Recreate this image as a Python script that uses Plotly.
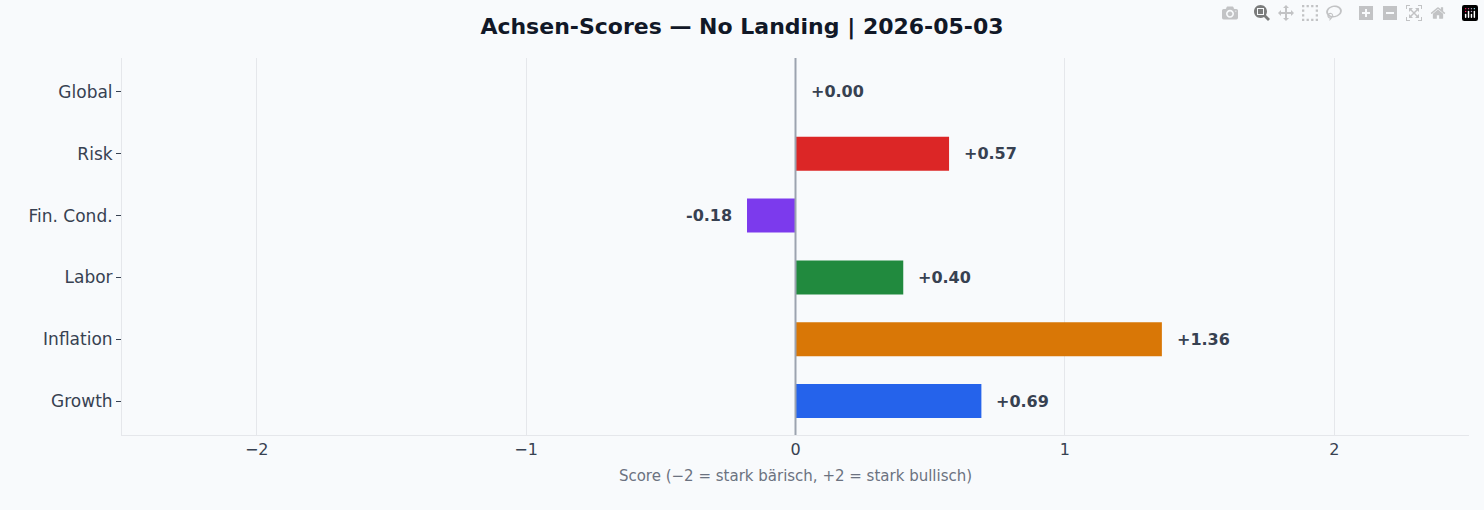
import plotly.graph_objects as go

categories = ["Growth", "Inflation", "Labor", "Fin. Cond.", "Risk", "Global"]
scores = [0.69, 1.36, 0.40, -0.18, 0.57, 0.00]
colors = ["#2563eb", "#d97706", "#218a3e", "#7c3aed", "#dc2626", "#6b7280"]
labels = [f"{v:+.2f}" for v in scores]
tick_vals = [-2, -1, 0, 1, 2]
tick_text = ["\u22122", "\u22121", "0", "1", "2"]

fig = go.Figure(go.Bar(
    y=categories, x=scores, orientation="h", width=0.55,
    marker=dict(color=colors, line=dict(width=0)),
))
annotations = []
for c, v, t in zip(categories, scores, labels):
    neg = v < 0
    annotations.append(dict(x=v, y=c, xref="x", yref="y", text=f"<b>{t}</b>", showarrow=False,
                            xanchor="right" if neg else "left", xshift=-13 if neg else 13,
                            font=dict(family="DejaVu Sans", size=16, color="#374151")))
fig.update_layout(
    width=1484, height=510,
    paper_bgcolor="#f8fafc", plot_bgcolor="#f8fafc",
    margin=dict(l=122, r=15, t=58, b=75),
    title=dict(text="<b>Achsen-Scores — No Landing | 2026-05-03</b>", x=0.5, xanchor="center",
               y=0.948, yanchor="middle", font=dict(family="DejaVu Sans", size=22, color="#111827")),
    font=dict(family="DejaVu Sans", size=16, color="#374151"),
    showlegend=False,
    annotations=annotations,
    shapes=[dict(type="line", xref="x", yref="paper", x0=0, x1=0, y0=0, y1=1,
                 line=dict(color="#9ca3af", width=2))],
)
fig.update_xaxes(range=[-2.5, 2.5], tickvals=tick_vals, ticktext=tick_text,
                 showgrid=True, gridcolor="#e5e7eb", zeroline=False,
                 showline=True, linecolor="#e5e7eb", ticks="", 
                 tickfont=dict(size=16),
                 title=dict(text="Score (\u22122 = stark bärisch, +2 = stark bullisch)",
                            font=dict(size=15, color="#6b7280"), standoff=12))
fig.update_yaxes(showgrid=False, showline=True, linecolor="#e5e7eb",
                 ticks="outside", ticklen=5, tickcolor="#374151", tickfont=dict(size=17),
                 range=[-0.55, 5.55])
fig.write_html("out.html")
with open("out.html", encoding="utf-8") as f:
    html = f.read()
html = html.replace("<head>", "<head><style>body{margin:0;padding:0;}</style>", 1)
with open("out.html", "w", encoding="utf-8") as f:
    f.write(html)
